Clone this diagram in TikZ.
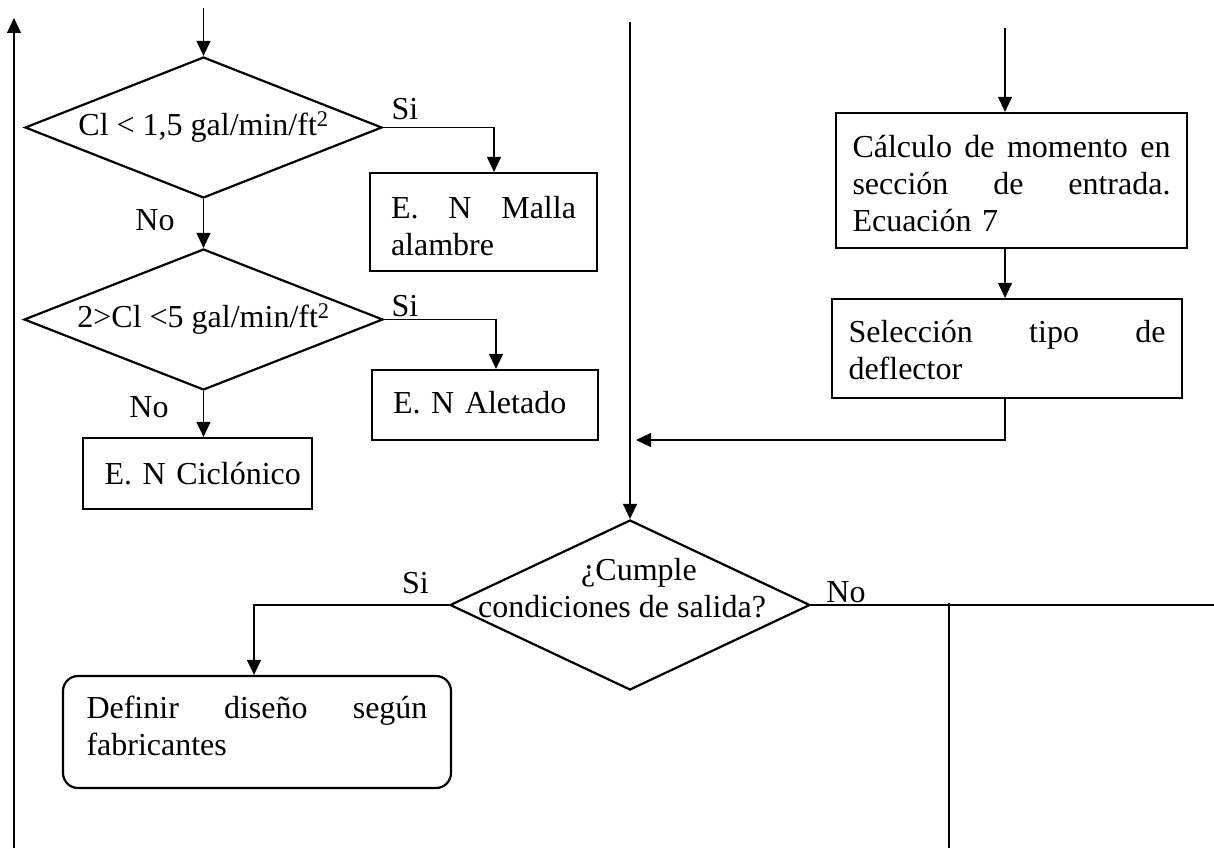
\documentclass[tikz,border=0pt]{standalone}
\usepackage{fontspec}
\setmainfont{Liberation Serif}
\usetikzlibrary{shapes.geometric,arrows.meta}
\hyphenpenalty=10000
\exhyphenpenalty=10000
\begin{document}
\begin{tikzpicture}[x=1pt,y=-1pt,
  every node/.style={font=\fontsize{32}{37}\selectfont},
  box/.style={draw,line width=2.2pt,inner sep=0pt,align=left},
  decision/.style={draw,diamond,line width=2.2pt,inner sep=0pt,aspect=2.5},
  conn/.style={line width=1.2pt},
  arr/.style={conn,-{Triangle[length=15pt,width=14pt]}},
  lab/.style={anchor=base,inner sep=0pt}
]
\useasboundingbox (0,0) rectangle (1214,848);

% decisions
\node[decision, minimum width=357, minimum height=141] (d1) at (203.5,127.5) {Cl < 1,5 gal/min/ft\textsuperscript{2}};
\node[decision, minimum width=359, minimum height=141] (d2) at (203.5,319.5) {2>Cl <5 gal/min/ft\textsuperscript{2}};
\node[decision, minimum width=360, minimum height=170] (d3) at (630,605) {};
\node[align=center, inner sep=0pt] (d3t) at (622,588) {\hspace*{34pt}¿Cumple\\condiciones de salida?};

% process boxes
\node[box, minimum width=227, minimum height=98, text width=185] (malla) at (483.5,222) {\rule{0pt}{31pt}E.\hfill N\hfill Malla\\alambre};
\node[box, minimum width=226, minimum height=70, text width=184] (alet) at (485,405) {E. N Aletado\rule[-5pt]{0pt}{5pt}};
\node[box, minimum width=229, minimum height=71, text width=186] (cicl) at (197.5,473.5) {\mbox{E. N Ciclónico}};
\node[box, minimum width=351, minimum height=135, text width=318] (calc) at (1011.5,180.5) {\rule{0pt}{28pt}Cálculo\hfill de\hfill momento\hfill en\\sección\hfill de\hfill entrada.\\Ecuación 7};
\node[box, minimum width=350, minimum height=99, text width=317] (sel) at (1007,348.5) {\rule{0pt}{26pt}Selección\hfill tipo\hfill de\\deflector};
\node[box, rounded corners=15pt, minimum width=388, minimum height=112, text width=341] (def) at (257,732) {Definir\hfill diseño\hfill según\hspace*{20pt}\\fabricantes\rule[-12pt]{0pt}{12pt}};

% labels
\node[lab] (si1) at (405,120) {Si};
\node[lab] (no1) at (155,230) {No};
\node[lab] (si2) at (405,316) {Si};
\node[lab] (no2) at (149,417) {No};
\node[lab] (si3) at (415.5,593) {Si};
\node[lab] (no3) at (846,602) {No};

% connectors
\coordinate (lb) at (14,848);
\coordinate (lt) at (14,18);
\draw[arr] (lb) -- (lt);
\coordinate (t1) at (203.5,8);
\draw[arr] (t1) -- (d1.north);
\draw[arr] (d1.south) -- (d2.north);
\draw[arr] (d1.east) -| ([xshift=10.5pt]malla.north);
\draw[arr] (d2.east) -| ([xshift=11pt]alet.north);
\draw[arr] (d2.south) -- (d2.south |- cicl.north);
\coordinate (t3) at (1005,28);
\draw[arr] (t3) -- (t3 |- calc.north);
\draw[arr] (t3 |- calc.south) -- (t3 |- sel.north);
\coordinate (j) at (636,440);
\draw[arr] (t3 |- sel.south) |- (j);
\coordinate (t2) at (630,22);
\draw[arr] (t2) -- (d3.north);
\draw[arr] (d3.west) -| ([xshift=-3pt]def.north);
\coordinate (re) at (1214,605);
\draw[conn] (d3.east) -- (re);
\coordinate (v1) at (949,603);
\coordinate (v2) at (949,848);
\draw[conn] (v1) -- (v2);
\end{tikzpicture}
\end{document}
